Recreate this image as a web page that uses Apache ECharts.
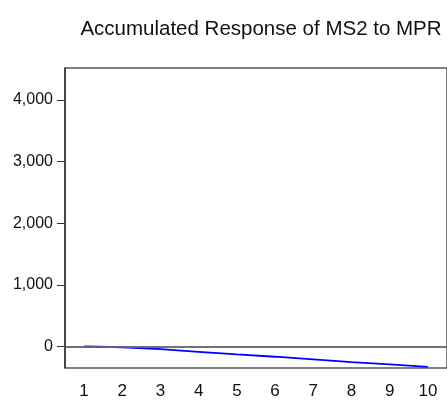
<!DOCTYPE html>
<html>
<head>
<meta charset="utf-8">
<script src="https://cdn.jsdelivr.net/npm/echarts@6/dist/echarts.min.js"></script>
<style>
  html, body { margin: 0; padding: 0; background: #fff; }
  #chart { width: 447px; height: 400px; }
</style>
</head>
<body>
<div id="chart"></div>
<script>
// periods 1..10
const periods = ["1", "2", "3", "4", "5", "6", "7", "8", "9", "10"];
// accumulated response
const response = [0, -13, -45, -87, -129, -167, -210, -254, -292, -332];
const yTicks = [0, 1000, 2000, 3000, 4000];

const font = '"Liberation Sans", Arial, sans-serif';

const chart = echarts.init(document.getElementById("chart"));
chart.setOption({
  animation: false,
  title: {
    text: "Accumulated Response of MS2 to MPR",
    left: 256,
    top: 14,
    textAlign: "center",
    textStyle: { fontFamily: font, fontSize: 20.5, fontWeight: "normal", color: "#111" },
  },
  grid: {
    left: 65,
    right: -8,
    top: 68,
    bottom: 31,
    show: true,
    borderColor: "#000",
    borderWidth: 1,
  },
  xAxis: {
    type: "category",
    data: periods,
    boundaryGap: true,
    axisLine: { lineStyle: { color: "#333", width: 1.5 } },
    axisTick: { length: 9, lineStyle: { color: "#333" } },
    axisLabel: { fontFamily: font, fontSize: 17, color: "#111", margin: 15 },
  },
  yAxis: {
    type: "value",
    min: -350,
    max: 4520,
    splitLine: { show: false },
    axisLine: { show: true, lineStyle: { color: "#333", width: 1.5 } },
    axisTick: { show: true, length: 8, customValues: yTicks, lineStyle: { color: "#333" } },
    axisLabel: {
      fontFamily: font,
      fontSize: 16,
      color: "#111",
      margin: 12,
      padding: [0, 0, 12, 0],
      customValues: yTicks,
      formatter: (v) => v.toLocaleString("en-US"),
    },
  },
  series: [
    {
      type: "line",
      data: response,
      showSymbol: false,
      lineStyle: { color: "#0000ff", width: 1.8 },
      markLine: {
        silent: true,
        symbol: "none",
        label: { show: false },
        lineStyle: { color: "#777", type: "solid", width: 1.5 },
        data: [{ yAxis: 0 }],
      },
    },
  ],
});
</script>
</body>
</html>
